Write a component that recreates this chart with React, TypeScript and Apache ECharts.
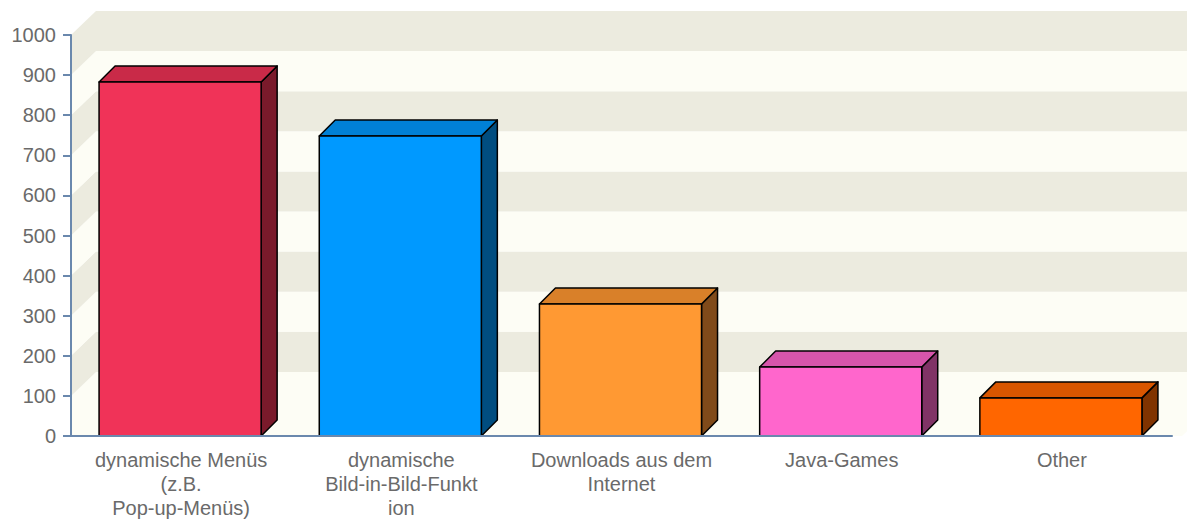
import React, { useEffect, useRef } from "react";
import * as echarts from "echarts";

const categories = [
  "dynamische Menüs\n(z.B.\nPop-up-Menüs)",
  "dynamische\nBild-in-Bild-Funkt\nion",
  "Downloads aus dem\nInternet",
  "Java-Games",
  "Other",
];
const values = [883, 748, 329, 172, 95];
const frontColors = ["#f03358", "#0099ff", "#ff9933", "#ff66cc", "#ff6600"];
const topColors = ["#c92a48", "#0080d6", "#d98029", "#d655ab", "#d95600"];
const sideColors = ["#7a1a2b", "#004d80", "#804a1a", "#803366", "#803300"];
const yMin = 0;
const yMax = 1000;
const yInterval = 100;
const bandStarts = [0, 100, 200, 300, 400, 500, 600, 700, 800, 900];

const WALL_D = 25;
const WALL_DY = 24;
const BAR_D = 16;
const BEIGE = "#ecebdf";
const LIGHT = "#fdfdf5";

export default function App() {
  const ref = useRef<HTMLDivElement>(null);
  useEffect(() => {
    const chart = echarts.init(ref.current!, null, { renderer: "svg" });
    const font = "Liberation Sans";
    chart.setOption({
      animation: false,
      backgroundColor: "#ffffff",
      grid: { left: 71, right: 15, top: 35, bottom: 87, containLabel: false },
      xAxis: {
        type: "category",
        data: categories,
        axisLine: { lineStyle: { color: "#6a88ad", width: 2 } },
        axisTick: { alignWithLabel: true, length: 8, lineStyle: { color: "#6a88ad", width: 2 } },
        axisLabel: {
          color: "#6a6a6a",
          fontFamily: font,
          fontSize: 20,
          lineHeight: 24,
          margin: 12,
          interval: 0,
        },
        z: 5,
      },
      yAxis: {
        type: "value",
        min: yMin,
        max: yMax,
        interval: yInterval,
        splitLine: { show: false },
        axisLine: { show: true, lineStyle: { color: "#6a88ad", width: 2 } },
        axisTick: { show: true, length: 8, lineStyle: { color: "#6a88ad", width: 2 } },
        axisLabel: {
          color: "#6a6a6a",
          fontFamily: font,
          fontSize: 20,
          margin: 15,
          formatter: (v: number) => String(v),
        },
        z: 5,
      },
      series: [
        {
          type: "custom",
          clip: false,
          silent: true,
          z: 0,
          data: bandStarts.map((v) => [0, v]),
          renderItem: (params: any, api: any) => {
            const cs = params.coordSys;
            const v = api.value(1);
            const ya = api.coord([0, v])[1];
            const yb = api.coord([0, v + yInterval])[1];
            const color = Math.round(v / yInterval) % 2 === 1 ? BEIGE : LIGHT;
            const xl = cs.x;
            const xr = cs.x + cs.width;
            const children: any[] = [
              {
                type: "rect",
                shape: { x: xl + WALL_D, y: yb - WALL_DY, width: xr - xl + 10, height: ya - yb },
                style: { fill: color },
              },
              {
                type: "polygon",
                shape: {
                  points: [
                    [xl, ya],
                    [xl + WALL_D, ya - WALL_DY],
                    [xl + WALL_D, yb - WALL_DY],
                    [xl, yb],
                  ],
                },
                style: { fill: color },
              },
            ];
            if (v === 0) {
              children.push({
                type: "polygon",
                shape: {
                  points: [
                    [xl, ya],
                    [xl + WALL_D, ya - WALL_DY],
                    [xr + WALL_D + 10, ya - WALL_DY],
                    [xr + 10, ya],
                  ],
                },
                style: { fill: LIGHT },
              });
            }
            return { type: "group", children };
          },
        },
        {
          type: "custom",
          clip: false,
          z: 3,
          data: values.map((v, i) => [i, v]),
          renderItem: (params: any, api: any) => {
            const idx = api.value(0);
            const v = api.value(1);
            const i = params.dataIndex;
            const top = api.coord([idx, v]);
            const base = api.coord([idx, 0]);
            const band = api.size([1, 0])[0];
            const w = band * 0.736;
            const x0 = top[0] - w / 2 - 1;
            const x1 = x0 + w;
            const yT = top[1];
            const yB = base[1];
            const d = BAR_D;
            const stroke = { stroke: "#000000", lineWidth: 1.5, lineJoin: "round" };
            return {
              type: "group",
              children: [
                {
                  type: "polygon",
                  shape: { points: [[x1, yT], [x1 + d, yT - d], [x1 + d, yB - d], [x1, yB]] },
                  style: { fill: sideColors[i], ...stroke },
                },
                {
                  type: "polygon",
                  shape: { points: [[x0, yT], [x0 + d, yT - d], [x1 + d, yT - d], [x1, yT]] },
                  style: { fill: topColors[i], ...stroke },
                },
                {
                  type: "rect",
                  shape: { x: x0, y: yT, width: w, height: yB - yT },
                  style: { fill: frontColors[i], ...stroke },
                },
              ],
            };
          },
        },
      ],
    });
    return () => chart.dispose();
  }, []);
  return (
    <div
      ref={ref}
      style={{ position: "fixed", left: 0, top: 0, width: 1187, height: 523 }}
    />
  );
}
